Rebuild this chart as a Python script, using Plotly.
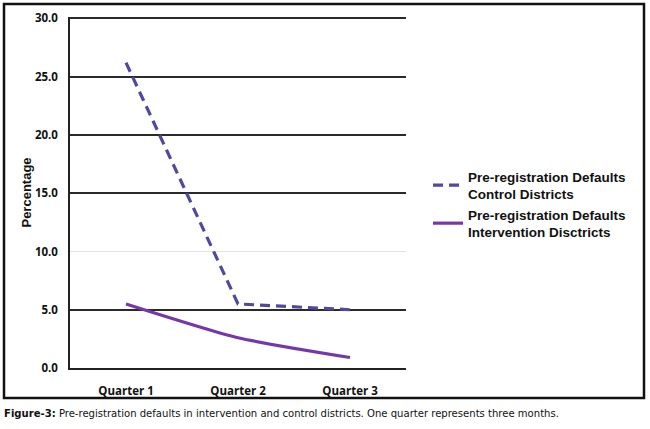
import plotly.graph_objects as go

quarters = ["Quarter 1", "Quarter 2", "Quarter 3"]
control = [26.2, 5.5, 5.0]
intervention = [5.5, 2.6, 0.9]
y_ticks = [0, 5, 10, 15, 20, 25, 30]
y_labels = ["0.0", "5.0", "10.0", "15.0", "20.0", "25.0", "30.0"]
dark_grid = [5, 15, 20, 25, 30]
light_grid = [10]
caption_bold = "Figure-3:"
caption_rest = " Pre-registration defaults in intervention and control districts. One quarter represents three months."

W, H = 650, 429
L, R, T, B = 70, 244, 17, 61
pw, ph = W - L - R, H - T - B
Y_RANGE = [0, 30.12]

def px_x(x):
    return (x - L) / pw

def px_y(y):
    return (H - B - y) / ph

fig = go.Figure()
fig.add_trace(go.Scatter(
    x=quarters, y=control, mode="lines",
    name="Pre-registration Defaults<br>Control Districts",
    line=dict(color="#4f4a9e", width=3.2, dash="10px,6px"),
))
fig.add_trace(go.Scatter(
    x=quarters, y=intervention, mode="lines",
    name="Pre-registration Defaults<br>Intervention Disctricts",
    line=dict(color="#7538a8", width=3.2, shape="spline", smoothing=0.6),
))

tickfont = dict(family="Open Sans", size=11.5, color="#111", weight="bold")
fig.update_layout(
    width=W, height=H,
    margin=dict(l=L, r=R, t=T, b=B, autoexpand=False),
    paper_bgcolor="white", plot_bgcolor="white",
    showlegend=True,
    legend=dict(
        x=px_x(428), y=px_y(161), xanchor="left", yanchor="top",
        font=dict(family="Liberation Sans", size=13.5, color="#111", weight="bold"),
        tracegroupgap=9, itemwidth=30, bgcolor="rgba(0,0,0,0)",
    ),
    xaxis=dict(
        type="category", range=[-0.5, 2.5], showgrid=False, automargin=False,
        showline=True, linecolor="#222", linewidth=1.5,
        ticks="outside", ticklen=4, tickcolor="rgba(0,0,0,0)",
        ticklabelstandoff=7,
        tickfont=tickfont, fixedrange=True,
    ),
    yaxis=dict(
        range=Y_RANGE, tickvals=y_ticks, ticktext=y_labels, automargin=False,
        showgrid=False, zeroline=False,
        showline=True, linecolor="#222", linewidth=1.5,
        ticks="outside", ticklen=8, tickcolor="rgba(0,0,0,0)",
        tickfont=tickfont,
        title=dict(text="Percentage", standoff=0,
                   font=dict(family="Liberation Sans", size=13, color="#111", weight="bold")),
    ),
    yaxis2=dict(
        range=Y_RANGE, overlaying="y", tickvals=dark_grid, showticklabels=False,
        showgrid=True, gridcolor="#2a2a2a", gridwidth=1.5, zeroline=False,
    ),
    yaxis3=dict(
        range=Y_RANGE, overlaying="y", tickvals=light_grid, showticklabels=False,
        showgrid=True, gridcolor="#e4e4e4", gridwidth=1.2, zeroline=False,
    ),
)
fig.add_trace(go.Scatter(x=[quarters[0]], y=[None], yaxis="y2", showlegend=False, hoverinfo="skip"))
fig.add_trace(go.Scatter(x=[quarters[0]], y=[None], yaxis="y3", showlegend=False, hoverinfo="skip"))

fig.add_shape(type="rect", xref="paper", yref="paper",
              x0=px_x(4), x1=px_x(644), y0=px_y(398), y1=px_y(4),
              line=dict(color="#111", width=2.5), fillcolor="rgba(0,0,0,0)", layer="above")

fig.add_annotation(
    xref="paper", yref="paper", x=px_x(2), y=px_y(413), xanchor="left", yanchor="middle",
    text=f"<b>{caption_bold}</b>{caption_rest}", showarrow=False,
    font=dict(family="DejaVu Sans Condensed", size=11.2, color="#111"),
)

fig.write_html("out.html", config={"displayModeBar": False},
               post_script="document.body.style.margin='0';")
